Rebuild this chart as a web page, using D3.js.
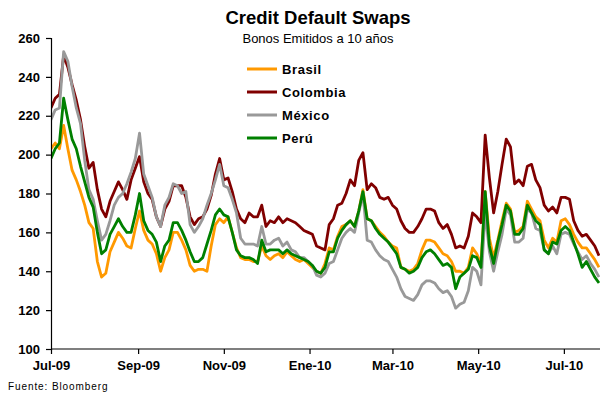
<!DOCTYPE html>
<html>
<head>
<meta charset="utf-8">
<script src="https://cdn.jsdelivr.net/npm/d3@7"></script>
<style>
  html, body { margin: 0; padding: 0; background: #fff; }
  svg { display: block; font-family: "Liberation Sans", Arial, sans-serif; }
</style>
</head>
<body>
<svg id="chart" width="600" height="393"></svg>
<script>
// Observation dates (every third day), July 2009 – July 2010
const dates = [
  "2009-07-01","2009-07-04","2009-07-07","2009-07-10","2009-07-13","2009-07-16","2009-07-19","2009-07-22","2009-07-25","2009-07-28","2009-07-31",
  "2009-08-03","2009-08-06","2009-08-09","2009-08-12","2009-08-15","2009-08-18","2009-08-21","2009-08-24","2009-08-27","2009-08-30",
  "2009-09-02","2009-09-05","2009-09-08","2009-09-11","2009-09-14","2009-09-17","2009-09-20","2009-09-23","2009-09-26","2009-09-29",
  "2009-10-02","2009-10-05","2009-10-08","2009-10-11","2009-10-14","2009-10-17","2009-10-20","2009-10-23","2009-10-26","2009-10-29",
  "2009-11-01","2009-11-04","2009-11-07","2009-11-10","2009-11-13","2009-11-16","2009-11-19","2009-11-22","2009-11-25","2009-11-28",
  "2009-12-01","2009-12-04","2009-12-07","2009-12-10","2009-12-13","2009-12-16","2009-12-19","2009-12-22","2009-12-25","2009-12-28","2009-12-31",
  "2010-01-03","2010-01-06","2010-01-09","2010-01-12","2010-01-15","2010-01-18","2010-01-21","2010-01-24","2010-01-27","2010-01-30",
  "2010-02-02","2010-02-05","2010-02-08","2010-02-11","2010-02-14","2010-02-17","2010-02-20","2010-02-23","2010-02-26",
  "2010-03-01","2010-03-04","2010-03-07","2010-03-10","2010-03-13","2010-03-16","2010-03-19","2010-03-22","2010-03-25","2010-03-28","2010-03-31",
  "2010-04-03","2010-04-06","2010-04-09","2010-04-12","2010-04-15","2010-04-18","2010-04-21","2010-04-24","2010-04-27","2010-04-30",
  "2010-05-03","2010-05-06","2010-05-09","2010-05-12","2010-05-15","2010-05-18","2010-05-21","2010-05-24","2010-05-27","2010-05-30",
  "2010-06-02","2010-06-05","2010-06-08","2010-06-11","2010-06-14","2010-06-17","2010-06-20","2010-06-23","2010-06-26","2010-06-29",
  "2010-07-02","2010-07-05","2010-07-08","2010-07-11","2010-07-14","2010-07-17","2010-07-20","2010-07-23","2010-07-26"
];

// CDS spreads (basis points), 10-year bonds
const brasil = [
  203,206,203,215,203,192,187,181,174,165,162,
  145,137,139,150,155,160,157,153,152,162,
  171,161,156,154,149,140,147,151,160,160,
  156,151,143,140,141,141,140,153,164,167,
  165,168,160,152,147,146,146,145,145,153,
  148,146,148,149,147,150,148,146,145,146,144,
  142,140,139,144,152,151,158,163,164,166,
  163,171,182,167,166,163,160,158,155,
  153,152,142,141,140,141,144,151,156,156,155,
  152,149,148,145,140,140,139,142,152,149,
  144,181,157,147,156,166,175,172,160,161,
  163,176,172,168,166,156,152,157,155,166,
  167,164,159,155,152,152,149,146,142
];

const colombia = [
  224,229,231,251,245,236,228,218,204,193,196,
  182,172,168,176,181,186,182,177,187,193,
  199,186,180,177,168,163,172,176,184,184,
  184,178,168,164,167,168,172,179,190,198,
  187,188,181,172,167,165,170,168,168,174,
  163,166,165,168,165,167,166,165,163,161,160,
  159,153,152,151,164,167,174,175,180,187,
  184,197,201,182,185,183,178,177,178,
  174,172,166,162,160,160,163,167,172,172,171,
  165,162,164,159,152,153,152,158,170,168,
  165,210,188,170,181,195,208,204,185,187,
  184,194,195,187,183,174,171,173,170,178,
  178,177,166,161,158,159,156,153,148
];

const mexico = [
  218,223,224,253,248,235,224,216,197,182,177,
  166,156,159,166,174,178,180,185,191,198,
  211,190,184,178,168,163,174,178,185,184,
  180,181,164,160,163,167,174,180,187,195,
  184,183,177,170,157,154,154,154,153,163,
  154,154,156,157,153,155,151,150,147,147,145,
  143,138,137,139,144,145,151,157,160,162,
  160,170,180,156,155,151,148,146,145,
  141,137,131,127,126,125,128,133,135,135,134,
  131,129,130,127,121,123,124,130,142,140,
  133,171,150,140,150,159,172,169,155,155,
  157,172,170,162,161,151,149,153,149,159,
  160,159,154,150,146,148,144,141,137
];

const peru = [
  198,203,206,229,218,208,203,194,186,178,173,
  160,149,151,159,163,167,163,160,160,169,
  180,166,161,159,155,145,153,156,165,165,
  161,156,150,145,145,147,154,161,169,172,
  169,168,160,151,148,147,147,146,144,156,
  150,151,151,151,149,151,149,148,147,146,145,
  143,140,139,142,150,150,157,161,164,166,
  163,171,181,167,166,162,159,157,155,
  152,149,142,141,139,140,142,147,150,151,149,
  146,143,144,142,131,137,139,141,148,147,
  142,181,153,144,155,164,174,171,159,159,
  162,174,170,166,164,151,149,155,154,161,
  163,161,155,149,142,145,141,137,134
];

const seriesNames = ["Brasil", "Colombia", "México", "Perú"];
const seriesColors = ["#FF9900", "#800000", "#999999", "#008000"];
const seriesValues = [brasil, colombia, mexico, peru];

// Axis ticks
const yTicks = [100, 120, 140, 160, 180, 200, 220, 240, 260];
const xTickDates = ["2009-07-01","2009-09-01","2009-11-01","2010-01-01","2010-03-01","2010-05-01","2010-07-01"];
const xTickLabels = ["Jul-09","Sep-09","Nov-09","Ene-10","Mar-10","May-10","Jul-10"];

(function draw() {
  const parse = d3.utcParse("%Y-%m-%d");
  const parsedDates = dates.map(parse);

  const svg = d3.select("#chart");
  const plotLeft = 51, plotRight = 599, plotTop = 38, plotBottom = 349;

  const x = d3.scaleUtc()
    .domain([parse("2009-07-01"), parse("2010-07-26")])
    .range([plotLeft, plotRight]);
  const y = d3.scaleLinear().domain([100, 260]).range([plotBottom, plotTop]);

  // Titles
  svg.append("text")
    .attr("x", 318).attr("y", 23.5)
    .attr("text-anchor", "middle")
    .style("font-size", "18.5px").style("font-weight", "bold")
    .text("Credit Default Swaps");
  svg.append("text")
    .attr("x", 318).attr("y", 43)
    .attr("text-anchor", "middle")
    .style("font-size", "13px")
    .text("Bonos Emitidos a 10 años");

  // Clip so lines stop at the plot edge
  svg.append("clipPath").attr("id", "plot-clip")
    .append("rect").attr("x", plotLeft).attr("y", 0)
    .attr("width", plotRight - plotLeft + 1).attr("height", plotBottom);

  const line = d3.line()
    .x((d, i) => x(parsedDates[i]))
    .y(d => y(d));

  const lines = svg.append("g").attr("clip-path", "url(#plot-clip)");
  seriesValues.forEach((vals, k) => {
    lines.append("path")
      .datum(vals)
      .attr("fill", "none")
      .attr("stroke", seriesColors[k])
      .attr("stroke-width", 2.8)
      .attr("stroke-linejoin", "round")
      .attr("d", line);
  });

  // Y axis
  const yAxis = svg.append("g")
    .attr("transform", `translate(${plotLeft},0)`)
    .call(d3.axisLeft(y).tickValues(yTicks).tickSize(5).tickPadding(6).tickFormat(d3.format("d")));
  yAxis.select(".domain").attr("stroke", "#000").attr("stroke-width", 1.2);
  yAxis.selectAll(".tick line").attr("stroke", "#000").attr("stroke-width", 1.2);
  yAxis.selectAll(".tick text")
    .style("font-family", "'Liberation Sans', Arial, sans-serif")
    .style("font-size", "13px").style("font-weight", "bold").attr("fill", "#000");

  // X axis
  const xAxis = svg.append("g")
    .attr("transform", `translate(0,${plotBottom})`)
    .call(d3.axisBottom(x)
      .tickValues(xTickDates.map(parse))
      .tickSize(5).tickPadding(7)
      .tickFormat((d, i) => xTickLabels[i]));
  xAxis.select(".domain").attr("stroke", "#000").attr("stroke-width", 1.2)
    .attr("d", `M${plotLeft},0H${plotRight + 1}`);
  xAxis.selectAll(".tick line").attr("stroke", "#000").attr("stroke-width", 1.2);
  xAxis.selectAll(".tick text")
    .style("font-family", "'Liberation Sans', Arial, sans-serif")
    .style("font-size", "13px").style("font-weight", "bold").attr("fill", "#000");

  // Legend
  const legend = svg.append("g");
  seriesNames.forEach((name, k) => {
    const ly = 69 + k * 23;
    legend.append("line")
      .attr("x1", 247).attr("x2", 277).attr("y1", ly).attr("y2", ly)
      .attr("stroke", seriesColors[k]).attr("stroke-width", 3);
    legend.append("text")
      .attr("x", 282).attr("y", ly + 4.5)
      .style("font-size", "13px").style("font-weight", "bold")
      .style("letter-spacing", "0.6px")
      .text(name);
  });

  // Source note
  svg.append("text")
    .attr("x", 8).attr("y", 390)
    .style("font-size", "10px").style("letter-spacing", "0.9px")
    .text("Fuente: Bloomberg");
})();
</script>
</body>
</html>
